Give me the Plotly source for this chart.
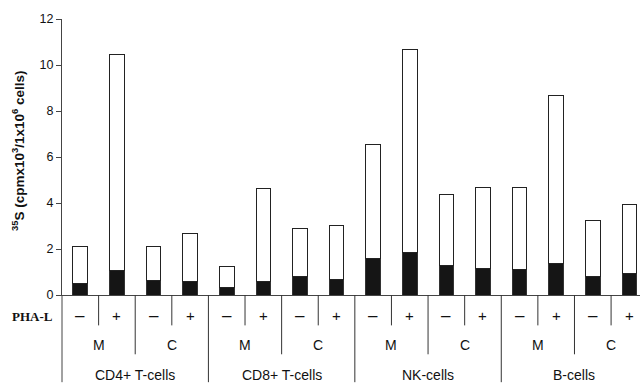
import plotly.graph_objects as go

cell_types = ["CD4+ T-cells", "CD8+ T-cells", "NK-cells", "B-cells"]
conditions = ["M", "C"]
pha_labels = ["–", "+"]

# black (lower) portion and total height of each bar, in order
black_vals = [0.48, 1.05, 0.63, 0.57, 0.34, 0.57, 0.80, 0.67,
              1.57, 1.85, 1.29, 1.15, 1.10, 1.35, 0.82, 0.92]
total_vals = [2.09, 10.46, 2.09, 2.69, 1.22, 4.63, 2.88, 3.02,
              6.53, 10.69, 4.37, 4.69, 4.69, 8.66, 3.26, 3.93]
white_vals = [round(t - b, 3) for t, b in zip(total_vals, black_vals)]

y_ticks = [0, 2, 4, 6, 8, 10, 12]

n = len(total_vals)
xs = list(range(n))

fig = go.Figure()
fig.add_trace(go.Bar(x=xs, y=black_vals, width=0.4,
                     marker=dict(color="#151515", line=dict(color="#333", width=1)),
                     showlegend=False, hoverinfo="skip"))
fig.add_trace(go.Bar(x=xs, y=white_vals, width=0.4,
                     marker=dict(color="white", line=dict(color="#222", width=1)),
                     showlegend=False, hoverinfo="skip"))

L, T, B = 62, 18.5, 87.5
H = 383 - T - B
def py(px):
    return (383 - B - px) / H

shapes = []
# left axis extension down to bottom
shapes.append(dict(type="line", xref="paper", yref="paper", x0=0, x1=0,
                   y0=py(383), y1=0, line=dict(color="#444", width=1)))
for k in range(1, n):
    xb = k - 0.5
    if k % 4 == 0:
        y_end = 383
    elif k % 2 == 0:
        y_end = 355
    else:
        y_end = 326
    shapes.append(dict(type="line", xref="x", yref="paper", x0=xb, x1=xb,
                       y0=py(y_end), y1=0, line=dict(color="#333", width=1)))

ann = []
fam = "Liberation Sans, Arial"
font_s = dict(family=fam, size=14, color="#111")
for i in range(n):
    is_minus = (i % 2 == 0)
    ann.append(dict(x=i, y=py(316.5), xref="x", yref="paper", text=pha_labels[i % 2],
                    showarrow=False,
                    font=dict(family=fam, size=17 if is_minus else 15, color="#111"),
                    xanchor="center", yanchor="middle"))
for j in range(n // 2):
    ann.append(dict(x=2 * j + 0.5, y=py(346), xref="x", yref="paper",
                    text=conditions[j % 2], showarrow=False, font=font_s,
                    xanchor="center", yanchor="middle"))
for g in range(len(cell_types)):
    ann.append(dict(x=4 * g + 1.5, y=py(375.5), xref="x", yref="paper",
                    text=cell_types[g], showarrow=False, font=font_s,
                    xanchor="center", yanchor="middle"))
ann.append(dict(x=(32.5 - L) / 578, y=py(317), xref="paper", yref="paper",
                text="<b>PHA-L</b>", showarrow=False,
                font=dict(family="Liberation Serif, Times New Roman", size=13, color="#111"),
                xanchor="center", yanchor="middle"))
ann.append(dict(x=(18 - L) / 578, y=py(151), xref="paper", yref="paper",
                text="<b><sup>35</sup>S (cpmx10<sup>3</sup>/1x10<sup>6</sup> cells)</b>",
                textangle=-90, showarrow=False,
                font=dict(family=fam, size=13.5, color="#111"),
                xanchor="center", yanchor="middle"))

fig.update_layout(
    barmode="stack",
    width=640, height=383,
    margin=dict(l=L, r=0, t=T, b=B, pad=0),
    paper_bgcolor="white", plot_bgcolor="white",
    shapes=shapes, annotations=ann,
    hovermode=False,
    xaxis=dict(range=[-0.5, 15.29], showticklabels=False, ticks="",
               showline=True, linecolor="#444", linewidth=1, showgrid=False,
               zeroline=False, fixedrange=True),
    yaxis=dict(range=[0, 12], tickvals=y_ticks, ticks="outside", ticklen=5,
               tickcolor="#444", showline=True, linecolor="#444", linewidth=1,
               showgrid=False, zeroline=False, fixedrange=True,
               tickfont=dict(family=fam, size=12.5, color="#111")),
)

fig.write_html("out.html", config={"displayModeBar": False, "staticPlot": True},
               post_script="document.body.style.margin='0';document.body.style.overflow='hidden';")
